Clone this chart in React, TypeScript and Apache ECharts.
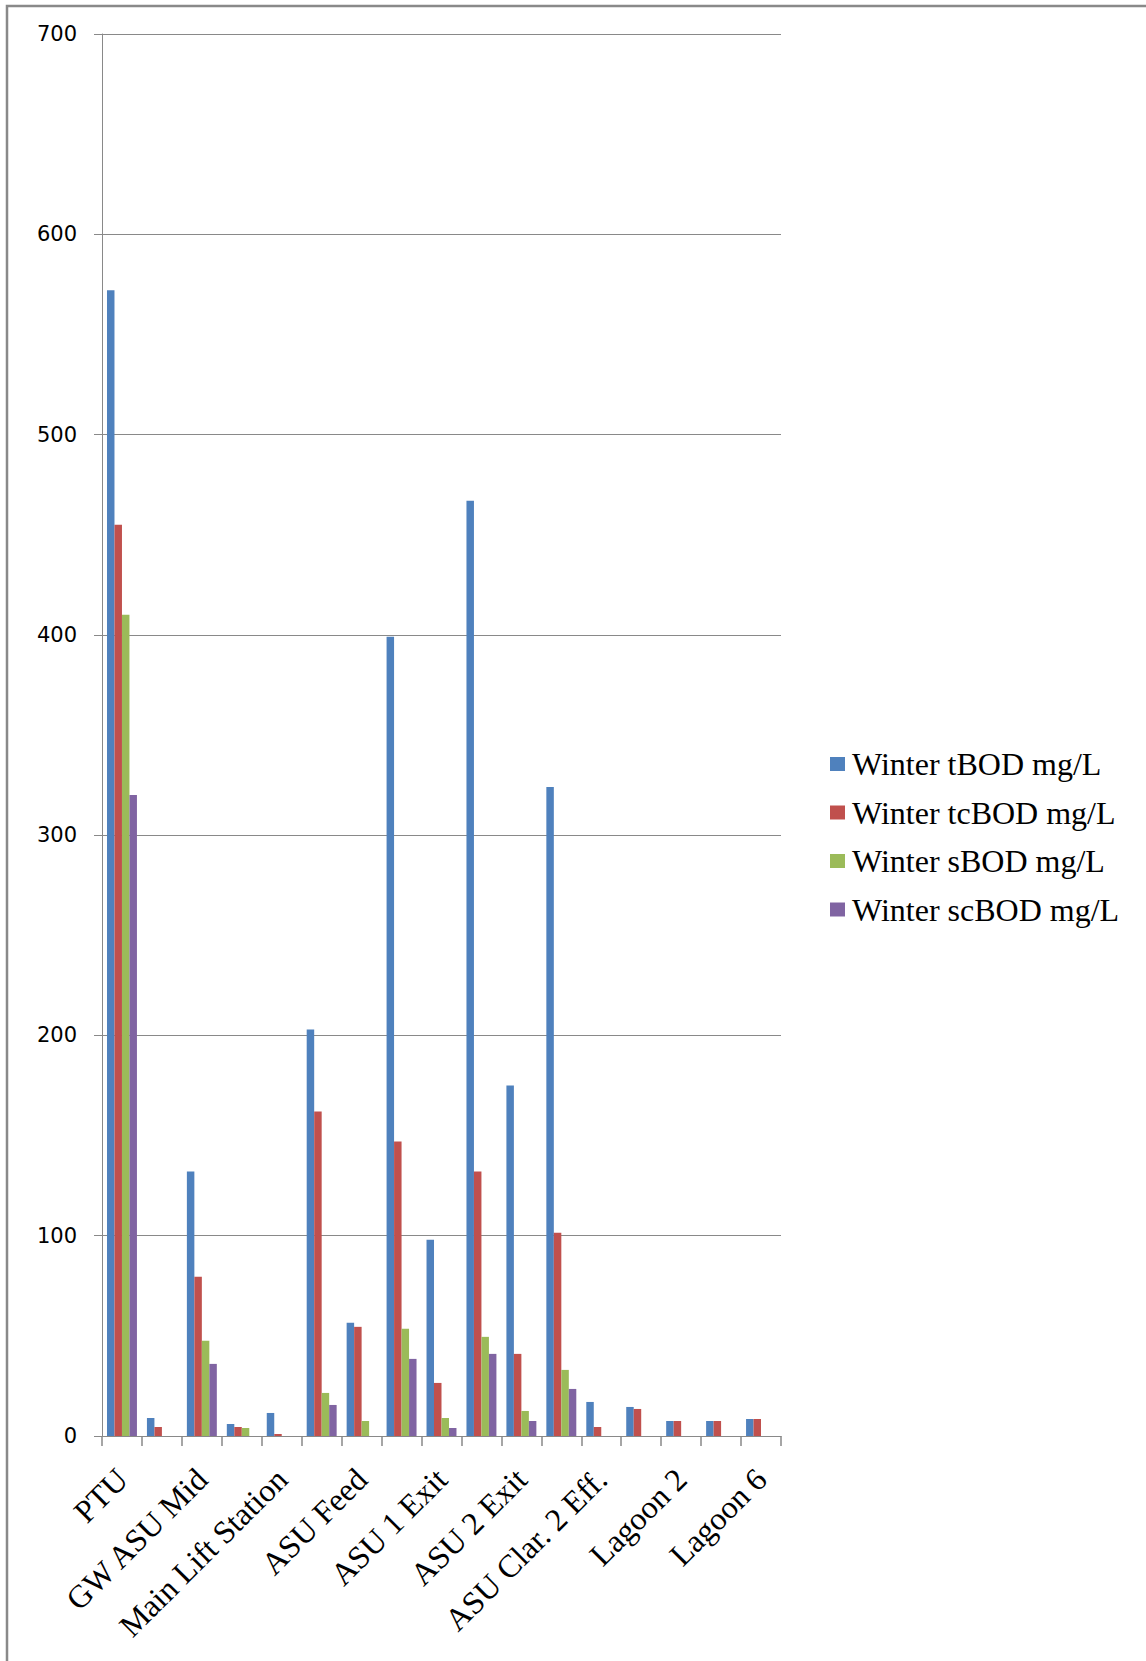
import React, { useEffect, useRef } from "react";
import * as echarts from "echarts";

// Sampling points along the treatment train (only every other name is labelled on the axis)
const sites = [
  "PTU",
  "GW ASU Inlet",
  "GW ASU Mid",
  "GW ASU Exit",
  "Main Lift Station",
  "Primary Eff.",
  "ASU Feed",
  "ASU 1 Mid",
  "ASU 1 Exit",
  "ASU 2 Mid",
  "ASU 2 Exit",
  "ASU Clar. 1 Eff.",
  "ASU Clar. 2 Eff.",
  "Lagoon 1",
  "Lagoon 2",
  "Lagoon 4",
  "Lagoon 6",
];

const seriesNames = [
  "Winter tBOD mg/L",
  "Winter tcBOD mg/L",
  "Winter sBOD mg/L",
  "Winter scBOD mg/L",
];

const tBOD = [572, 9, 132, 6, 11.5, 203, 56.5, 399, 98, 467, 175, 324, 17, 14.5, 7.5, 7.5, 8.5];
const tcBOD = [455, 4.5, 79.5, 4.5, 1, 162, 54.5, 147, 26.5, 132, 41, 101.5, 4.5, 13.5, 7.5, 7.5, 8.5];
const sBOD = [410, null, 47.5, 4, null, 21.5, 7.5, 53.5, 9, 49.5, 12.5, 33, null, null, null, null, null];
const scBOD = [320, null, 36, null, null, 15.5, null, 38.5, 4, 41, 7.5, 23.5, null, null, null, null, null];

const colors = ["#4F81BD", "#C0504D", "#9BBB59", "#8064A2"];

const yTicks = { min: 0, max: 700, interval: 100 };

export default function App() {
  const ref = useRef<HTMLDivElement>(null);

  useEffect(() => {
    if (!ref.current) return;
    const chart = echarts.init(ref.current, null, { renderer: "svg" });
    const values = [tBOD, tcBOD, sBOD, scBOD];
    const gray = "#898989";
    const serif = "'Liberation Serif', 'Times New Roman', serif";

    chart.setOption({
      animation: false,
      backgroundColor: "#ffffff",
      color: colors,
      grid: { left: 102, top: 34, width: 679, height: 1402, containLabel: false },
      graphic: [
        {
          type: "rect",
          shape: { x: 7, y: 6, width: 1300, height: 1800 },
          style: { fill: "none", stroke: gray, lineWidth: 2.5 },
          silent: true,
        },
      ],
      legend: {
        orient: "vertical",
        left: 830,
        top: 748,
        padding: 0,
        icon: "rect",
        itemWidth: 15,
        itemHeight: 14,
        itemGap: 16.5,
        data: seriesNames,
        textStyle: {
          fontFamily: serif,
          fontSize: 32,
          lineHeight: 31,
          color: "#000",
          padding: [0, 0, 0, 2],
        },
      },
      xAxis: {
        type: "category",
        data: sites,
        boundaryGap: true,
        axisLine: { lineStyle: { color: gray, width: 1 } },
        axisTick: { show: true, interval: 0, length: 10, lineStyle: { color: gray, width: 1.5 } },
        axisLabel: {
          interval: 1,
          rotate: 45,
          margin: 38,
          fontFamily: serif,
          fontSize: 32,
          color: "#000",
        },
        splitLine: { show: false },
      },
      yAxis: {
        type: "value",
        min: yTicks.min,
        max: yTicks.max,
        interval: yTicks.interval,
        axisLine: { show: true, lineStyle: { color: gray, width: 1 } },
        axisTick: { show: true, length: 8, lineStyle: { color: gray } },
        axisLabel: {
          margin: 25,
          fontFamily: "'DejaVu Sans', Verdana, sans-serif",
          fontSize: 21,
          color: "#000",
        },
        splitLine: { show: true, lineStyle: { color: gray, width: 1 } },
      },
      series: seriesNames.map((name, i) => ({
        name,
        type: "bar",
        data: values[i],
        barGap: "0%",
        barCategoryGap: "25%",
        itemStyle: { color: colors[i] },
      })),
    });

    return () => chart.dispose();
  }, []);

  return (
    <div
      ref={ref}
      style={{ position: "absolute", left: 0, top: 0, width: 1146, height: 1661, background: "#fff" }}
    />
  );
}
